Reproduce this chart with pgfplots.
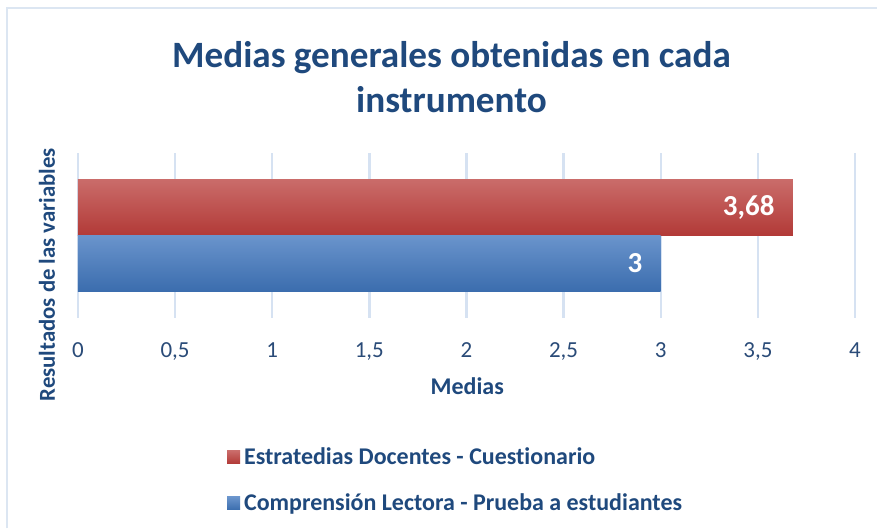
\documentclass[border=0pt]{standalone}
\usepackage{pgfplots}
\pgfplotsset{compat=1.18}
\usepackage{fontspec}
\setmainfont{Carlito}[Ligatures=NoCommon]
\definecolor{titleblue}{HTML}{1F497D}
\definecolor{tickblue}{HTML}{2A4B78}
\definecolor{gridc}{HTML}{D6E2F2}
\definecolor{framec}{HTML}{DCE6F2}
\definecolor{redtop}{HTML}{CA6C6A}
\definecolor{redmid}{HTML}{C14B48}
\definecolor{redbot}{HTML}{B23A37}
\definecolor{bluetop}{HTML}{6A94CC}
\definecolor{bluemid}{HTML}{4C7FC0}
\definecolor{bluebot}{HTML}{3B6DAE}
\begin{document}
\begin{tikzpicture}[x=0.5pt,y=0.5pt]
\fill[white] (0,0) rectangle (878,529);
\draw[framec, line width=1pt] (7,0) -- (7,521) -- (878,521);
\begin{axis}[
  at={(39pt,105.5pt)}, anchor=south west,
  scale only axis, width=389pt, height=82.5pt,
  xmin=0, xmax=4, ymin=-1, ymax=1,
  xtick={0,0.5,1,1.5,2,2.5,3,3.5,4}, ytick=\empty,
  axis line style={draw=none}, major tick length=0pt,
  xmajorgrids, grid style={color=gridc, line width=1.2pt},
  xticklabel style={font=\fontsize{11.5}{13}\selectfont, text=tickblue, anchor=base, yshift=-19.8pt, inner sep=0pt},
  /pgf/number format/.cd, use comma, assume math mode=true, /pgfplots/.cd,
  title={Medias generales obtenidas en cada\\instrumento},
  title style={at={(rel axis cs:0.4807,1.385)}, anchor=center, align=center, font=\bfseries\fontsize{18.6}{22.5}\selectfont, text=titleblue},
  xlabel={Medias},
  xlabel style={at={(rel axis cs:0.501,-0.418)}, anchor=center, font=\bfseries\fontsize{12}{14}\selectfont, text=titleblue},
  ylabel={Resultados de las variables},
  ylabel style={at={(rel axis cs:-0.0398,0.26)}, anchor=center, font=\bfseries\fontsize{11.4}{13}\selectfont, text=titleblue},
  legend style={at={(rel axis cs:0.1915,-0.76)}, anchor=north west, draw=none, fill=none, inner sep=0pt,
    font=\bfseries\fontsize{12}{14}\selectfont, text=titleblue, row sep=9.2pt},
  legend cell align=left,
  legend image code/.code={\fill[#1] (0pt,-3.25pt) rectangle (6.5pt,3.25pt);},
]
\addplot[xbar, bar width=28pt, bar shift=14pt, draw=none, top color=redtop, middle color=redmid, bottom color=redbot,
  nodes near coords, nodes near coords style={anchor=east, text=white, font=\bfseries\fontsize{14.5}{16}\selectfont, xshift=-9pt, yshift=14pt, inner sep=0pt}]
  coordinates {(3.68,0)};
\addplot[xbar, bar width=28pt, bar shift=-14pt, draw=none, top color=bluetop, middle color=bluemid, bottom color=bluebot,
  nodes near coords, nodes near coords style={anchor=east, text=white, font=\bfseries\fontsize{14.5}{16}\selectfont, xshift=-9pt, yshift=-14pt, inner sep=0pt}]
  coordinates {(3,0)};
\legend{Estratedias Docentes - Cuestionario, Comprensión Lectora - Prueba a estudiantes}
\end{axis}
\end{tikzpicture}
\end{document}
